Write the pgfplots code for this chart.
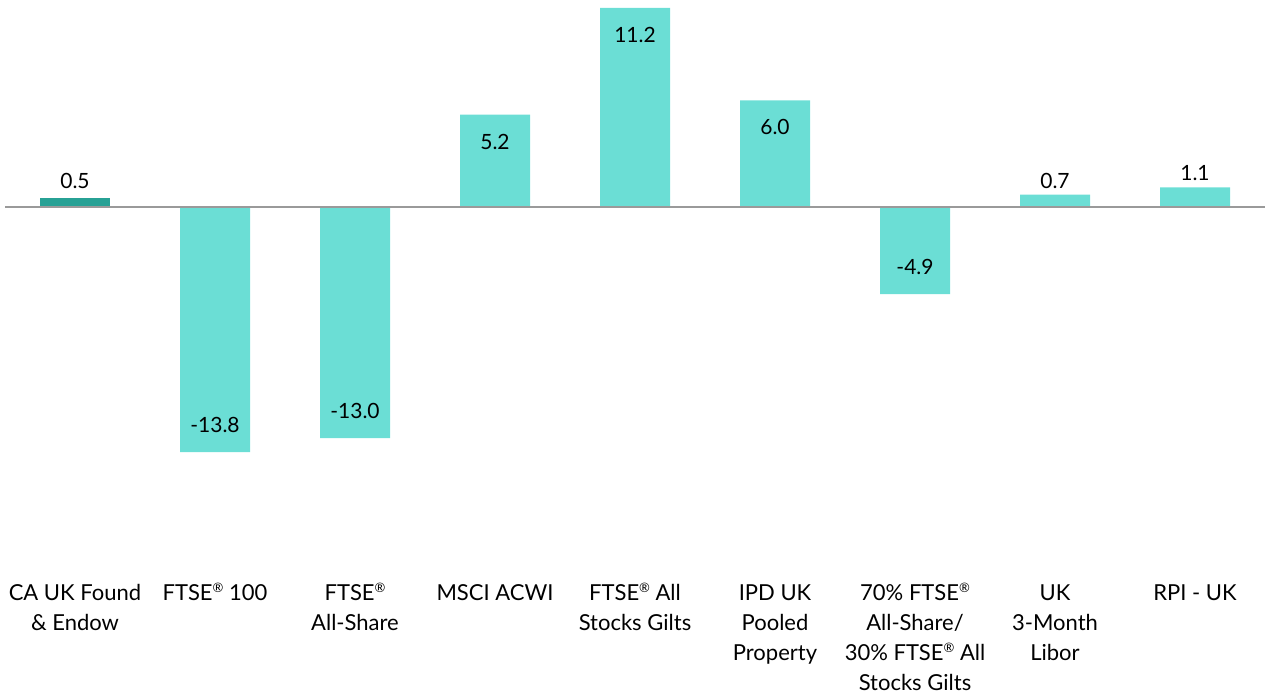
\documentclass[border=0pt]{standalone}
\usepackage{pgfplots}
\pgfplotsset{compat=1.18}
\usepackage{fontspec}
\setmainfont{Lato}
\definecolor{darkteal}{HTML}{27A195}
\definecolor{lightteal}{HTML}{6BDED5}
\definecolor{basegray}{HTML}{9A9A9A}
\newcommand{\reg}{\raisebox{0.38em}{\fontsize{6.5pt}{6.5pt}\selectfont ®}}
\newcommand{\fl}{\rule{0pt}{10pt}}
\begin{document}
\begin{tikzpicture}
\path[use as bounding box] (-2.5pt,-65.8pt) rectangle (631pt,281.2pt);
\begin{axis}[
  at={(0,0)}, anchor=south west,
  scale only axis,
  x=70pt, y=8.885pt,
  xmin=-0.5, xmax=8.5, ymin=-20, ymax=11.65,
  axis x line=bottom, axis y line=none,
  x axis line style={draw=none, -},
  major tick length=0pt,
  xtick={0,1,2,3,4,5,6,7,8},
  xticklabels={{\fl CA UK Found\\\& Endow},
  {\fl FTSE\reg{} 100},
  {\fl FTSE\reg\\All-Share},
  {\fl MSCI ACWI},
  {\fl FTSE\reg{} All\\Stocks Gilts},
  {\fl IPD UK\\Pooled\\Property},
  {\fl 70\% FTSE\reg\\All-Share/\\30\% FTSE\reg{} All\\Stocks Gilts},
  {\fl UK\\3-Month\\Libor},
  {\fl RPI - UK}},
  xticklabel style={anchor=north, align=center, inner sep=0pt, yshift=-9pt,
     font=\fontsize{11pt}{15pt}\selectfont},
  clip=false,
  ybar, bar width=35pt,
  /pgf/number format/assume math mode=true,
  /pgf/number format/.cd, fixed, fixed zerofill, precision=1, /pgfplots/.cd,
  every node near coord/.append style={font=\fontsize{10.5pt}{12pt}\selectfont, text=black},
]
\addplot[fill=darkteal, draw=none, bar shift=0pt, nodes near coords,
  every node near coord/.append style={anchor=center, yshift=8.5pt}]
  coordinates {(0,0.5)};
\addplot[fill=lightteal, draw=none, bar shift=0pt, nodes near coords,
  every node near coord/.append style={anchor=center, yshift=-13.5pt}]
  coordinates {(3,5.2) (4,11.2) (5,6.0)};
\addplot[fill=lightteal, draw=none, bar shift=0pt, nodes near coords,
  every node near coord/.append style={anchor=center, yshift=13.5pt}]
  coordinates {(1,-13.8) (2,-13.0) (6,-4.9)};
\addplot[fill=lightteal, draw=none, bar shift=0pt, nodes near coords,
  every node near coord/.append style={anchor=center, yshift=7pt}]
  coordinates {(7,0.7) (8,1.1)};
\draw[basegray, line width=1pt] (axis cs:-0.5,0) -- (axis cs:8.5,0);
\end{axis}
\end{tikzpicture}
\end{document}
